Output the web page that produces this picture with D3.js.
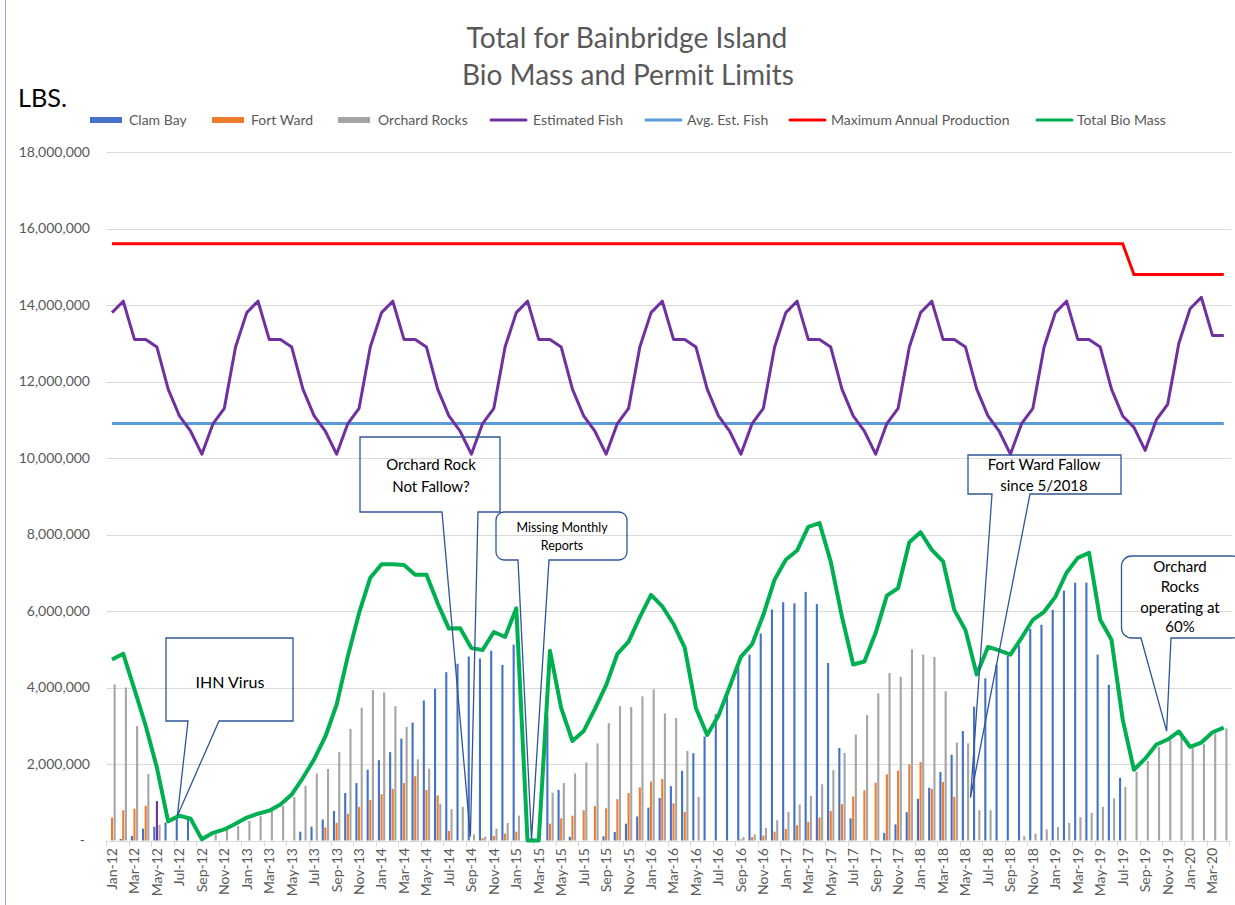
<!DOCTYPE html>
<html>
<head>
<meta charset="utf-8">
<script src="https://cdn.jsdelivr.net/npm/d3@7"></script>
<style>
  body { margin: 0; background: #fff; }
  svg { display: block; font-family: Lato, "Open Sans", sans-serif; }
</style>
</head>
<body>
<div id="chart"></div>
<script>
// ---- data (millions of lbs) ----
const months = [
  "Jan-12","Feb-12","Mar-12","Apr-12","May-12","Jun-12","Jul-12","Aug-12","Sep-12","Oct-12","Nov-12","Dec-12",
  "Jan-13","Feb-13","Mar-13","Apr-13","May-13","Jun-13","Jul-13","Aug-13","Sep-13","Oct-13","Nov-13","Dec-13",
  "Jan-14","Feb-14","Mar-14","Apr-14","May-14","Jun-14","Jul-14","Aug-14","Sep-14","Oct-14","Nov-14","Dec-14",
  "Jan-15","Feb-15","Mar-15","Apr-15","May-15","Jun-15","Jul-15","Aug-15","Sep-15","Oct-15","Nov-15","Dec-15",
  "Jan-16","Feb-16","Mar-16","Apr-16","May-16","Jun-16","Jul-16","Aug-16","Sep-16","Oct-16","Nov-16","Dec-16",
  "Jan-17","Feb-17","Mar-17","Apr-17","May-17","Jun-17","Jul-17","Aug-17","Sep-17","Oct-17","Nov-17","Dec-17",
  "Jan-18","Feb-18","Mar-18","Apr-18","May-18","Jun-18","Jul-18","Aug-18","Sep-18","Oct-18","Nov-18","Dec-18",
  "Jan-19","Feb-19","Mar-19","Apr-19","May-19","Jun-19","Jul-19","Aug-19","Sep-19","Oct-19","Nov-19","Dec-19",
  "Jan-20","Feb-20","Mar-20","Apr-20"
];

const clamBay = [
  0, 0.04, 0.12, 0.31, 0.36, 0.47, 0.6, 0.55, 0, 0, 0, 0,
  0, 0, 0, 0, 0, 0.23, 0.36, 0.55, 0.77, 1.24, 1.5, 1.85,
  2.1, 2.31, 2.66, 3.08, 3.66, 3.97, 4.4, 4.62, 4.81, 4.76, 4.96, 4.59,
  5.12, 0, 0, 3.25, 1.32, 0.1, 0, 0, 0.11, 0.22, 0.44, 0.63,
  0.86, 1.11, 1.42, 1.82, 2.28, 2.72, 3.3, 3.8, 4.53, 4.86, 5.41, 6.04,
  6.23, 6.2, 6.5, 6.18, 4.64, 2.42, 0.58, 0, 0, 0.2, 0.42, 0.74,
  1.09, 1.38, 1.79, 2.24, 2.86, 3.5, 4.24, 4.6, 4.83, 5.1, 5.53, 5.64,
  6.03, 6.53, 6.74, 6.74, 4.86, 4.07, 1.64, 0, 0, 0, 0, 0,
  0, 0, 0, 0
];

const fortWard = [
  0.6, 0.79, 0.83, 0.91, 1.03, 0, 0, 0, 0, 0, 0, 0,
  0, 0, 0, 0, 0, 0, 0, 0.34, 0.46, 0.7, 0.88, 1.06,
  1.21, 1.35, 1.5, 1.68, 1.32, 1.18, 0.25, 0, 0, 0.06, 0.12, 0.18,
  0.23, 0, 0, 0.44, 0.58, 0.65, 0.79, 0.9, 0.84, 1.08, 1.24, 1.39,
  1.54, 1.61, 0.97, 0.75, 0, 0, 0, 0, 0.03, 0.09, 0.13, 0.23,
  0.3, 0.4, 0.49, 0.6, 0.77, 0.95, 1.15, 1.31, 1.51, 1.73, 1.83, 1.99,
  2.05, 1.35, 1.53, 1.14, 0, 0, 0, 0, 0, 0, 0, 0,
  0, 0, 0, 0, 0, 0, 0, 0, 0, 0, 0, 0,
  0, 0, 0, 0
];
const fortWardOddMonth = "May-12"; // drawn purple in the original

const orchardRocks = [
  4.08, 4.0, 2.99, 1.74, 0.41, 0, 0, 0, 0, 0.16, 0.29, 0.38,
  0.51, 0.64, 0.77, 0.9, 1.14, 1.43, 1.75, 1.87, 2.31, 2.92, 3.47, 3.93,
  3.87, 3.51, 2.97, 2.12, 1.88, 0.96, 0.82, 0.88, 0.16, 0.1, 0.31, 0.46,
  0.65, 0, 0, 1.25, 1.5, 1.75, 2.04, 2.54, 3.07, 3.51, 3.49, 3.77,
  3.95, 3.32, 3.2, 2.34, 1.14, 0, 0, 0, 0.09, 0.16, 0.33, 0.53,
  0.75, 0.94, 1.17, 1.47, 1.84, 2.29, 2.77, 3.28, 3.85, 4.38, 4.28, 5.0,
  4.86, 4.8, 3.9, 2.56, 2.54, 0.79, 0.79, 0, 0, 0.11, 0.18, 0.29,
  0.35, 0.46, 0.61, 0.72, 0.88, 1.1, 1.4, 1.8, 2.08, 2.45, 2.62, 2.78,
  2.42, 2.52, 2.8, 2.93
];

const estimatedFish = [
  13.8, 14.1, 13.1, 13.1, 12.9, 11.8, 11.1, 10.7, 10.1, 10.9, 11.3, 12.9,
  13.8, 14.1, 13.1, 13.1, 12.9, 11.8, 11.1, 10.7, 10.1, 10.9, 11.3, 12.9,
  13.8, 14.1, 13.1, 13.1, 12.9, 11.8, 11.1, 10.7, 10.1, 10.9, 11.3, 12.9,
  13.8, 14.1, 13.1, 13.1, 12.9, 11.8, 11.1, 10.7, 10.1, 10.9, 11.3, 12.9,
  13.8, 14.1, 13.1, 13.1, 12.9, 11.8, 11.1, 10.7, 10.1, 10.9, 11.3, 12.9,
  13.8, 14.1, 13.1, 13.1, 12.9, 11.8, 11.1, 10.7, 10.1, 10.9, 11.3, 12.9,
  13.8, 14.1, 13.1, 13.1, 12.9, 11.8, 11.1, 10.7, 10.1, 10.9, 11.3, 12.9,
  13.8, 14.1, 13.1, 13.1, 12.9, 11.8, 11.1, 10.8, 10.2, 11.0, 11.4, 13.0,
  13.9, 14.2, 13.2, 13.2
];

const totalBioMass = [
  4.73, 4.88, 3.95, 3.0, 1.9, 0.5, 0.65, 0.57, 0.03, 0.2, 0.29, 0.44,
  0.6, 0.7, 0.78, 0.94, 1.2, 1.64, 2.12, 2.72, 3.55, 4.82, 5.95, 6.87,
  7.22, 7.22, 7.2, 6.95, 6.95, 6.2, 5.54, 5.55, 5.03, 4.98, 5.45, 5.32,
  6.07, 0, 0, 4.96, 3.46, 2.6, 2.86, 3.44, 4.06, 4.88, 5.2, 5.84,
  6.42, 6.12, 5.66, 5.04, 3.46, 2.76, 3.26, 4.02, 4.8, 5.13, 5.9, 6.82,
  7.34, 7.58, 8.2, 8.3, 7.29, 5.85, 4.6, 4.68, 5.43, 6.4, 6.6, 7.8,
  8.06, 7.6, 7.3, 6.03, 5.5, 4.34, 5.06, 4.97, 4.86, 5.3, 5.77, 5.98,
  6.37, 7.0, 7.39, 7.52, 5.77, 5.25, 3.16, 1.85, 2.14, 2.51, 2.64, 2.85,
  2.45, 2.56, 2.83, 2.95
];

// flat lines: value holds between the listed months
const avgEstFish = [ {month: "Jan-12", value: 10.9}, {month: "Apr-20", value: 10.9} ];
const maxAnnualProduction = [
  {month: "Jan-12", value: 15.6}, {month: "Jul-19", value: 15.6},
  {month: "Aug-19", value: 14.8}, {month: "Apr-20", value: 14.8}
];

const yTicks = [0, 2, 4, 6, 8, 10, 12, 14, 16, 18];

// ---- layout ----
const W = 1235, H = 905;
const plot = {left: 106.4, right: 1229.4, bottom: 840.5, top: 152};
const textGray = "#595959";
const gridColor = "#d9d9d9";

const svg = d3.select("#chart").append("svg")
    .attr("width", W)
    .attr("height", H);

const x = d3.scaleBand()
    .domain(months)
    .range([plot.left, plot.right])
    .paddingInner(0.25)
    .paddingOuter(0.125);

const barSeries = [
  {name: "Clam Bay", values: clamBay, color: "#4472C4"},
  {name: "Fort Ward", values: fortWard, color: "#ED7D31"},
  {name: "Orchard Rocks", values: orchardRocks, color: "#A5A5A5"}
];

const xs = d3.scaleBand()
    .domain(barSeries.map(s => s.name))
    .range([0, x.bandwidth()])
    .padding(0.2);

const y = d3.scaleLinear()
    .domain([0, 18])
    .range([plot.bottom, plot.top]);

const cx = m => x(m) + x.bandwidth() / 2;

// chart frame
svg.append("line")
    .attr("x1", 5.5).attr("x2", 5.5)
    .attr("y1", 0).attr("y2", H)
    .attr("stroke", "#8eaadb").attr("stroke-width", 1);

// titles
function fitWidth(sel, w) {
    let len = sel.node().getComputedTextLength();
    let fs = parseFloat(sel.attr("font-size"));
    sel.attr("font-size", fs * w / len);
}
let t1 = svg.append("text").attr("x", 627).attr("y", 48)
    .attr("text-anchor", "middle").attr("font-size", 28).attr("fill", textGray)
    .text("Total for Bainbridge Island");
fitWidth(t1, 321);
let t2 = svg.append("text").attr("x", 628).attr("y", 85)
    .attr("text-anchor", "middle").attr("font-size", 28).attr("fill", textGray)
    .text("Bio Mass and Permit Limits");
fitWidth(t2, 332);
let lbs = svg.append("text").attr("x", 18).attr("y", 107)
    .attr("font-size", 28).attr("fill", "#000")
    .text("LBS.");
fitWidth(lbs, 49);

// gridlines + y labels
svg.append("g").selectAll("line").data(yTicks).join("line")
    .attr("x1", plot.left).attr("x2", plot.right + 2)
    .attr("y1", d => Math.round(y(d)) + 0.5).attr("y2", d => Math.round(y(d)) + 0.5)
    .attr("stroke", gridColor).attr("stroke-width", 1);

svg.append("g").selectAll("text").data(yTicks).join("text")
    .attr("x", d => d === 0 ? 85 : 90)
    .attr("y", d => y(d))
    .attr("dy", "0.35em")
    .attr("text-anchor", "end")
    .attr("font-size", 14)
    .attr("fill", textGray)
    .text(d => d === 0 ? "-" : d3.format(",")(d * 1e6));

// x tick marks at every other band boundary
const tickIdx = d3.range(0, months.length + 1, 2);
svg.append("g").selectAll("line").data(tickIdx).join("line")
    .attr("x1", i => Math.round(x.range()[0] + i * x.step()) + 0.5)
    .attr("x2", i => Math.round(x.range()[0] + i * x.step()) + 0.5)
    .attr("y1", plot.bottom).attr("y2", plot.bottom + 6)
    .attr("stroke", gridColor);

svg.append("g").selectAll("text").data(months.filter((m, i) => i % 2 === 0)).join("text")
    .attr("transform", m => `translate(${cx(m)},848) rotate(-90)`)
    .attr("dy", "0.35em")
    .attr("text-anchor", "end")
    .attr("font-size", 14)
    .attr("fill", textGray)
    .text(m => m);

// clustered bars
const bars = svg.append("g");
barSeries.forEach(s => {
    bars.append("g").selectAll("rect")
        .data(months.map((m, i) => ({m: m, v: s.values[i]})).filter(d => d.v > 0))
        .join("rect")
        .attr("x", d => x(d.m) + xs(s.name))
        .attr("width", xs.bandwidth())
        .attr("y", d => y(d.v))
        .attr("height", d => y(0) - y(d.v))
        .attr("fill", d => (s.name === "Fort Ward" && d.m === fortWardOddMonth) ? "#7030A0" : s.color);
});

// lines
const line = d3.line().x(d => cx(d.month)).y(d => y(d.value));
const asPoints = arr => arr.map((v, i) => ({month: months[i], value: v}));

svg.append("path").datum(maxAnnualProduction).attr("d", line)
    .attr("fill", "none").attr("stroke", "#FF0000").attr("stroke-width", 3);
svg.append("path").datum(avgEstFish).attr("d", line)
    .attr("fill", "none").attr("stroke", "#5B9BD5").attr("stroke-width", 3);
svg.append("path").datum(asPoints(estimatedFish)).attr("d", line)
    .attr("fill", "none").attr("stroke", "#7030A0").attr("stroke-width", 3)
    .attr("stroke-linejoin", "round");
svg.append("path").datum(asPoints(totalBioMass)).attr("d", line)
    .attr("fill", "none").attr("stroke", "#00B050").attr("stroke-width", 4)
    .attr("stroke-linejoin", "round");

// legend
const legend = [
  {label: "Clam Bay", type: "bar", color: "#4472C4", sx: 90, tx: 129},
  {label: "Fort Ward", type: "bar", color: "#ED7D31", sx: 212, tx: 251},
  {label: "Orchard Rocks", type: "bar", color: "#A5A5A5", sx: 338, tx: 378},
  {label: "Estimated Fish", type: "line", color: "#7030A0", sx: 491, tx: 533},
  {label: "Avg. Est. Fish", type: "line", color: "#5B9BD5", sx: 646, tx: 687},
  {label: "Maximum Annual Production", type: "line", color: "#FF0000", sx: 790, tx: 831},
  {label: "Total Bio Mass", type: "line", color: "#00B050", sx: 1037, tx: 1077}
];
const lg = svg.append("g").selectAll("g").data(legend).join("g");
lg.filter(d => d.type === "bar").append("rect")
    .attr("x", d => d.sx).attr("y", 117).attr("width", 32).attr("height", 6)
    .attr("fill", d => d.color);
lg.filter(d => d.type === "line").append("line")
    .attr("x1", d => d.sx).attr("x2", d => d.sx + 35)
    .attr("y1", 120).attr("y2", 120)
    .attr("stroke", d => d.color).attr("stroke-width", 3).attr("stroke-linecap", "round");
lg.append("text")
    .attr("x", d => d.tx).attr("y", 120).attr("dy", "0.35em")
    .attr("font-size", 14).attr("fill", textGray)
    .text(d => d.label);

// callouts (outline only, the chart shows through)
const calloutStroke = "#2F5597";
function callout(box, base, tip, lines, fs, r) {
    // box: [x0,y0,x1,y1], base: [xa,xb] on bottom edge, tip: [x,y]
    const [x0, y0, x1, y1] = box;
    let p = d3.path();
    p.moveTo(x0 + r, y0);
    p.lineTo(x1 - r, y0);
    if (r) p.arcTo(x1, y0, x1, y0 + r, r);
    p.lineTo(x1, y1 - r);
    if (r) p.arcTo(x1, y1, x1 - r, y1, r);
    p.lineTo(base[1], y1);
    p.lineTo(tip[0], tip[1]);
    p.lineTo(base[0], y1);
    p.lineTo(x0 + r, y1);
    if (r) p.arcTo(x0, y1, x0, y1 - r, r);
    p.lineTo(x0, y0 + r);
    if (r) p.arcTo(x0, y0, x0 + r, y0, r);
    p.closePath();
    let g = svg.append("g");
    g.append("path").attr("d", p.toString())
        .attr("fill", "none").attr("stroke", calloutStroke).attr("stroke-width", 1.3);
    g.selectAll("text").data(lines).join("text")
        .attr("x", d => d.x).attr("y", d => d.y).attr("dy", "0.35em")
        .attr("text-anchor", "middle").attr("font-size", fs).attr("fill", "#000")
        .text(d => d.t);
}

callout([166, 638, 293, 721], [188, 219], [cx("Jul-12") - 2, y(0.65)],
    [{t: "IHN Virus", x: 230, y: 682}], 16, 0);
callout([360, 437, 500, 512], [442, 478], [cx("Sep-14") - 1, y(0.1)],
    [{t: "Orchard Rock", x: 431, y: 465}, {t: "Not Fallow?", x: 431, y: 487}], 15, 0);
callout([496, 512, 627, 560], [518, 549], [cx("Feb-15") + 4, y(0.03)],
    [{t: "Missing Monthly", x: 562, y: 528}, {t: "Reports", x: 562, y: 546}], 12.5, 8);
callout([968, 455, 1121, 494], [992, 1030], [cx("May-18") + 5, y(1.12)],
    [{t: "Fort Ward Fallow", x: 1044, y: 465}, {t: "since 5/2018", x: 1044, y: 486}], 15, 0);
callout([1121.5, 556, 1242, 638], [1141, 1171], [cx("Nov-19") - 1, y(2.86)],
    [{t: "Orchard", x: 1180, y: 567}, {t: "Rocks", x: 1180, y: 587},
     {t: "operating at", x: 1180, y: 608}, {t: "60%", x: 1180, y: 627}], 15, 10);
</script>
</body>
</html>
